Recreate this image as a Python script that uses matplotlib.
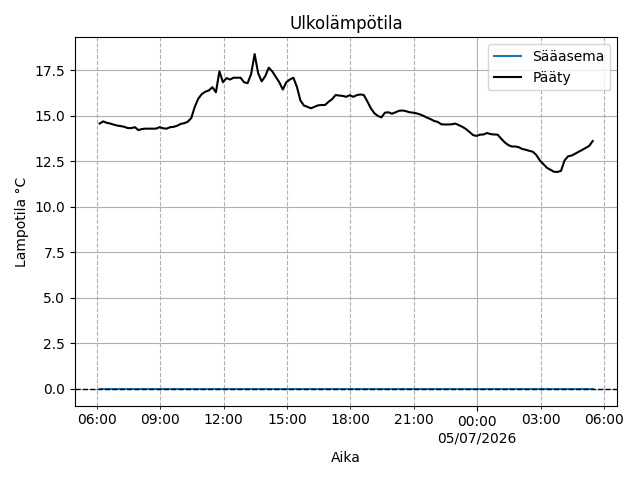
import pandas as pd
import matplotlib
matplotlib.use("Agg")
import matplotlib.pyplot as plt
import matplotlib.dates as mdates

# Mittausten alku ja väli (10 min)
start_time = "2026-07-04 06:08"
step = "10min"

paaty = [
    14.58, 14.70, 14.62, 14.58, 14.52, 14.47, 14.44, 14.40, 14.33, 14.33,
    14.38, 14.22, 14.28, 14.30, 14.30, 14.30, 14.30, 14.38, 14.32, 14.30,
    14.38, 14.40, 14.46, 14.56, 14.60, 14.68, 14.88, 15.50, 15.95, 16.20,
    16.33, 16.40, 16.58, 16.30, 17.45, 16.85, 17.08, 17.00, 17.10, 17.10,
    17.10, 16.85, 16.80, 17.30, 18.40, 17.35, 16.90, 17.18, 17.65, 17.45,
    17.15, 16.85, 16.45, 16.85, 17.00, 17.10, 16.60, 15.85, 15.57, 15.50,
    15.42, 15.50, 15.58, 15.60, 15.60, 15.78, 15.92, 16.15, 16.12, 16.10,
    16.05, 16.14, 16.05, 16.14, 16.18, 16.15, 15.80, 15.42, 15.15, 15.00,
    14.92, 15.18, 15.20, 15.12, 15.20, 15.28, 15.30, 15.26, 15.20, 15.18,
    15.14, 15.08, 15.00, 14.90, 14.82, 14.72, 14.67, 14.54, 14.53, 14.53,
    14.54, 14.58, 14.49, 14.40, 14.28, 14.12, 13.95, 13.90, 13.97, 13.98,
    14.06, 14.00, 13.98, 13.97, 13.75, 13.55, 13.40, 13.32, 13.32, 13.28,
    13.18, 13.14, 13.08, 13.03, 12.85, 12.55, 12.35, 12.15, 12.04, 11.93,
    11.92, 11.98, 12.55, 12.78, 12.82, 12.92, 13.03, 13.13, 13.24, 13.35,
    13.62,
]
saaasema = [0.0] * len(paaty)

times = pd.date_range(start_time, periods=len(paaty), freq=step)

fig, ax = plt.subplots(figsize=(6.4, 4.8), dpi=100)
ax.plot(times, saaasema, label="Sääasema")
ax.plot(times, paaty, color="black", label="Pääty")
ax.axhline(0, color="black", linestyle="--", linewidth=1)

ax.xaxis.set_major_locator(mdates.DayLocator())
ax.xaxis.set_major_formatter(mdates.DateFormatter("%H:%M\n%d/%m/%Y"))
ax.xaxis.set_minor_locator(mdates.HourLocator(byhour=range(0, 24, 3)))
ax.xaxis.set_minor_formatter(mdates.DateFormatter("%H:%M"))

ax.grid(True, which="major")
ax.grid(True, which="minor", axis="x", linestyle="--")

ax.set_title("Ulkolämpötila")
ax.set_xlabel("Aika")
ax.set_ylabel("Lampotila °C")
ax.legend(loc="upper right")

plt.tight_layout()
plt.savefig("out.png")
